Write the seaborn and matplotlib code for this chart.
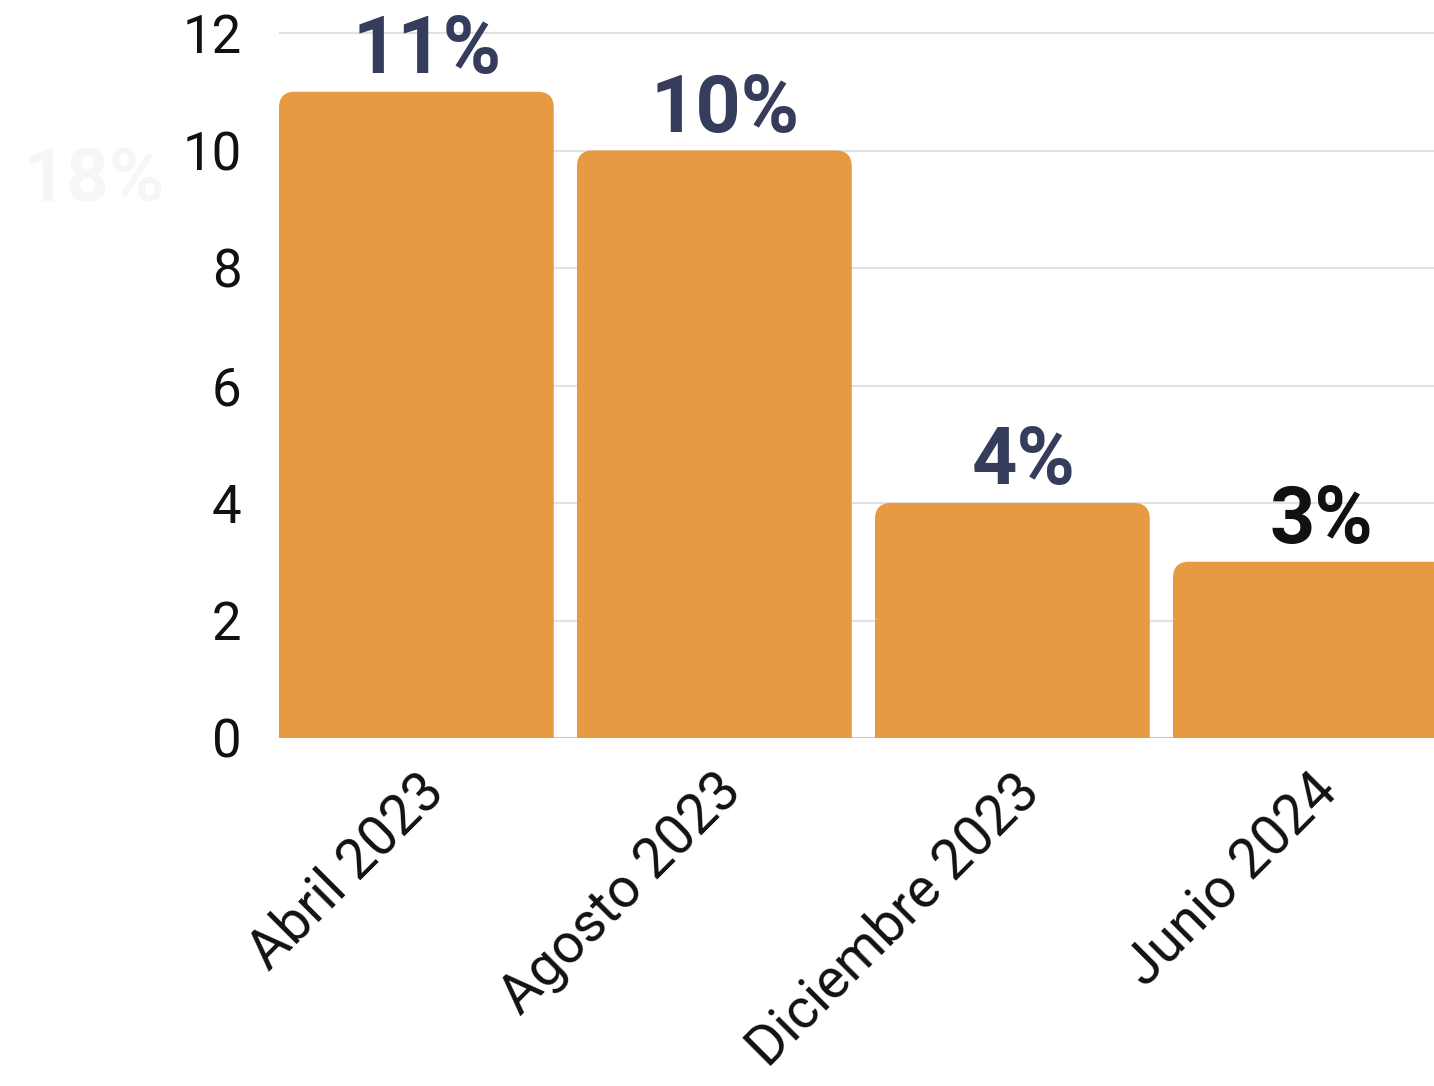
import pandas as pd
import numpy as np
import matplotlib.pyplot as plt
import seaborn as sns
from matplotlib.patches import FancyBboxPatch

# datos
periodos = ["Abril 2023", "Agosto 2023", "Diciembre 2023", "Junio 2024"]
valores = [11, 10, 4, 3]
etiquetas = ["11%", "10%", "4%", "3%"]
colores_etiqueta = ["#363c5c", "#363c5c", "#363c5c", "#111111"]

df = pd.DataFrame({"periodo": periodos, "valor": valores})

sns.set_style("white")
plt.rcParams['font.family'] = ['Roboto', 'DejaVu Sans']

fig = plt.figure(figsize=(14.34, 10.86), dpi=100)
ax = fig.add_axes([279 / 1434, 1 - 738 / 1086, 1 - 279 / 1434, 738 / 1086])

sns.barplot(data=df, x="periodo", y="valor", color="#e89a42", saturation=1,
            width=0.922, ax=ax, zorder=3)

# barras con esquinas redondeadas
px_x = 298.0
px_y = 58.75
r = 16 / px_x
for p in list(ax.patches):
    x0, w, h = p.get_x(), p.get_width(), p.get_height()
    p.set_visible(False)
    caja = FancyBboxPatch((x0, -1), w, h + 1,
                          boxstyle="round,pad=0,rounding_size=%f" % r,
                          mutation_aspect=px_x / px_y,
                          facecolor="#e89a42", edgecolor="none", zorder=3)
    ax.add_patch(caja)

# etiquetas de valor
for i, (v, t, c) in enumerate(zip(valores, etiquetas, colores_etiqueta)):
    ax.annotate(t, (i, v), xytext=(8, 2), textcoords="offset points",
                ha="center", va="bottom", fontsize=57, fontweight="bold", color=c)

ax.set_xlim(-0.461, -0.461 + (1434 - 279) / px_x)
ax.set_ylim(0, 738 / px_y)
ax.set_yticks(range(0, 13, 2))
ax.yaxis.grid(True, color="#e2e2e2", linewidth=1.5, zorder=0)
ax.set_axisbelow(True)
ax.axhline(0, color="#c8c8c8", linewidth=1.5, zorder=1)
for s in ax.spines.values():
    s.set_visible(False)

ax.set_xlabel("")
ax.set_ylabel("")
ax.tick_params(axis="y", length=0, pad=27, labelsize=38, labelcolor="#111111")
ax.tick_params(axis="x", length=0, pad=19, labelsize=40, labelcolor="#111111")
for lab in ax.get_xticklabels():
    lab.set_rotation(45)
    lab.set_ha("right")
    lab.set_va("top")
    lab.set_rotation_mode("anchor")

# texto tenue de fondo
fig.text(95 / 1434, 1 - 182 / 1086, "18%", ha="center", va="center",
         fontsize=54, fontweight="bold", color="#f6f6f6", zorder=0)

plt.savefig("out.png", dpi=100)
